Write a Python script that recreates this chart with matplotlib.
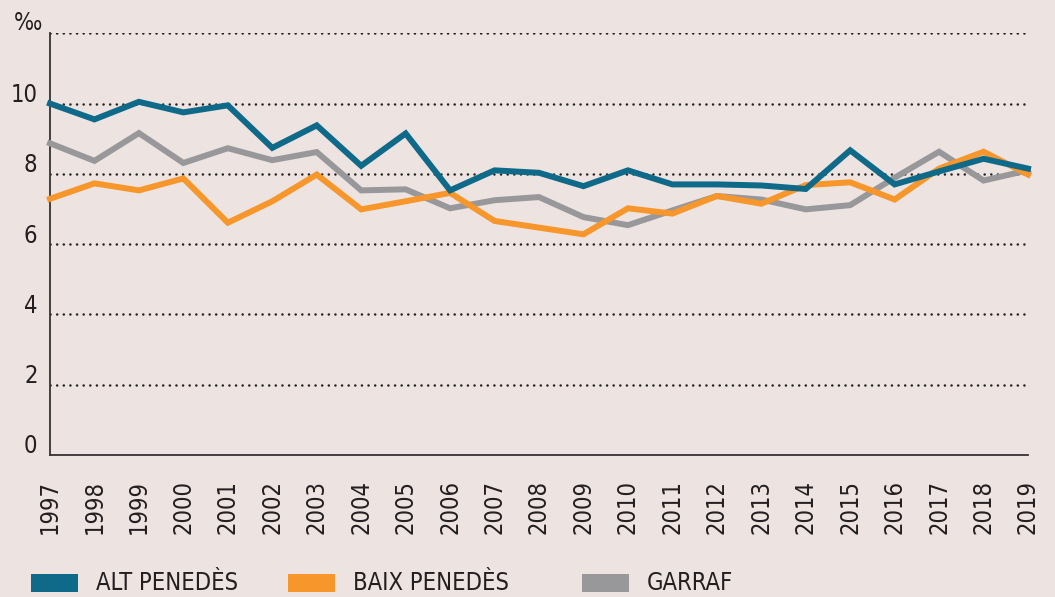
import matplotlib
matplotlib.use('Agg')
import matplotlib.pyplot as plt
import matplotlib.transforms as mtransforms
from matplotlib.patches import Rectangle

# data (per mil)
years = list(range(1997, 2020))
alt_penedes = [10.0, 9.55, 10.05, 9.75, 9.95, 8.74, 9.38, 8.23, 9.15, 7.53, 8.1, 8.03,
               7.65, 8.1, 7.7, 7.7, 7.67, 7.57, 8.67, 7.7, 8.07, 8.43, 8.15]
baix_penedes = [7.29, 7.73, 7.53, 7.87, 6.61, 7.22, 7.98, 6.99, 7.22, 7.46, 6.66, 6.47,
                6.28, 7.02, 6.87, 7.37, 7.15, 7.68, 7.76, 7.27, 8.15, 8.63, 7.98]
garraf = [8.87, 8.37, 9.16, 8.31, 8.73, 8.39, 8.62, 7.53, 7.56, 7.02, 7.25, 7.34,
          6.77, 6.54, 6.96, 7.37, 7.27, 6.99, 7.11, 7.89, 8.63, 7.81, 8.1]
series_names = ['ALT PENEDÈS', 'BAIX PENEDÈS', 'GARRAF']
yticks = [0, 2, 4, 6, 8, 10]

bg = '#ede3e1'
colors = ['#0f6a89', '#f7962a', '#98989b']
txt = '#231f20'
plt.rcParams['font.family'] = ['DejaVu Sans']
plt.rcParams['font.stretch'] = 'condensed'

W, H = 1055, 597
fig = plt.figure(figsize=(W / 100, H / 100), dpi=100, facecolor=bg)
ax = fig.add_axes([50 / W, 1 - 455 / H, (1028 - 50) / W, (455 - 33.3) / H])
ax.set_facecolor(bg)

# dotted grid
for g in [2, 4, 6, 8, 10, 12]:
    ax.axhline(g, color='#222222', lw=1.8, linestyle=(0, (0.05, 2.6)),
               dash_capstyle='round', zorder=1)

# draw gray first, then orange, then blue on top
for vals, c in [(garraf, colors[2]), (baix_penedes, colors[1]), (alt_penedes, colors[0])]:
    ax.plot(years, vals, color=c, lw=4.3, solid_joinstyle='miter', clip_on=False, zorder=3)

ax.set_xlim(1997, 2019)
ax.set_ylim(0, 12)
for s in ['top', 'right']:
    ax.spines[s].set_visible(False)
for s in ['left', 'bottom']:
    ax.spines[s].set_color('#333333')
    ax.spines[s].set_linewidth(1.3)

ax.set_xticks(years)
ax.set_xticklabels([str(y) for y in years], rotation=90, va='top', ha='center')
ax.set_yticks(yticks)
ax.set_yticklabels([str(v) for v in yticks])
ax.tick_params(axis='x', length=0, pad=18, labelsize=17, labelcolor=txt)
ax.tick_params(axis='y', length=0, pad=9, labelsize=17, labelcolor=txt)
offset = mtransforms.ScaledTranslation(0, 8 / 72, fig.dpi_scale_trans)
for lab in ax.get_yticklabels():
    lab.set_transform(lab.get_transform() + offset)

fig.text(14 / W, 1 - 23 / H, '‰', fontsize=17, color=txt, ha='left', va='center')

# legend row: colour swatch then name, fixed positions like the original layout
legend_x = [31, 288, 582]
for x0, c, name in zip(legend_x, colors, series_names):
    fig.add_artist(Rectangle((x0 / W, 1 - 592 / H), 47 / W, 18 / H,
                             transform=fig.transFigure, facecolor=c, edgecolor='none'))
    fig.text((x0 + 65) / W, 1 - 583 / H, name, fontsize=17, color=txt,
             ha='left', va='center')

fig.savefig('out.png', dpi=100, facecolor=bg)
